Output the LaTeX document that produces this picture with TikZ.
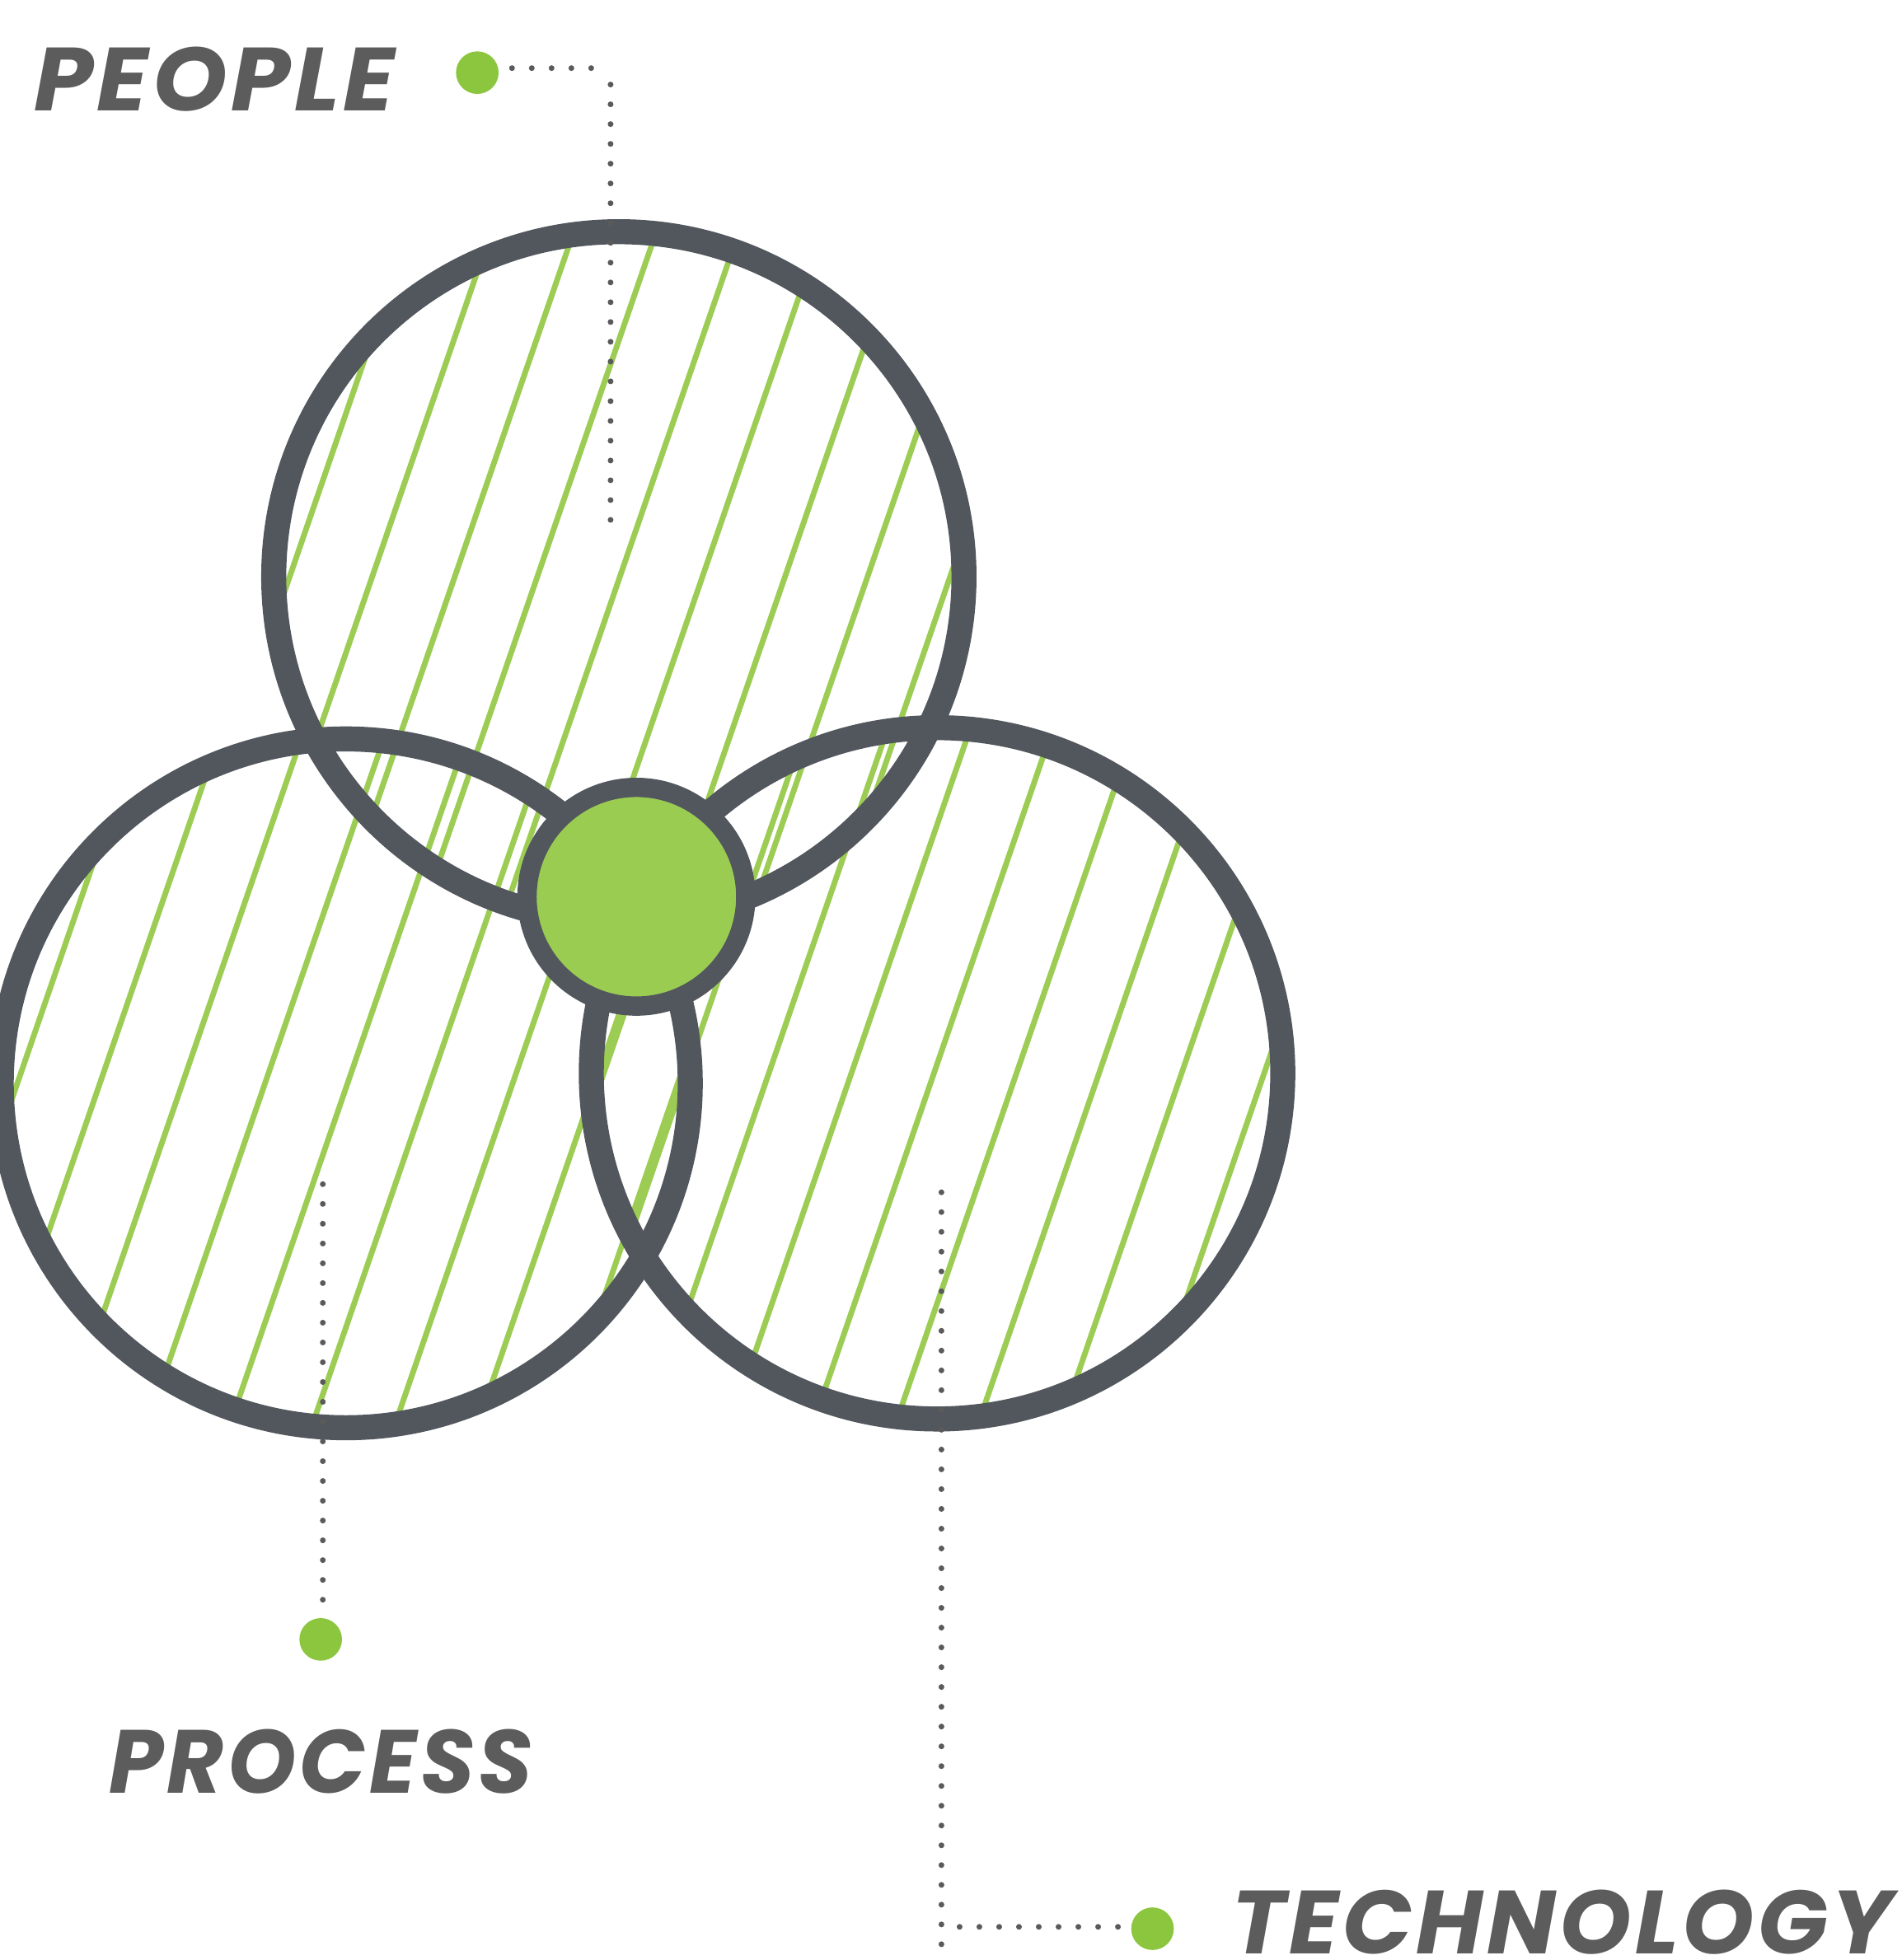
\documentclass[tikz,border=0pt]{standalone}
\usepackage{fontspec}
\usepackage{graphicx}
\newfontfamily\lblfont{Poppins}[LetterSpace=4]
\definecolor{ringgray}{HTML}{52575E}
\definecolor{hatchgreen}{HTML}{9CCC53}
\definecolor{coregreen}{HTML}{9BCC52}
\definecolor{markgreen}{HTML}{8CC63F}
\definecolor{textgray}{HTML}{5C5C5C}
\definecolor{dotgray}{HTML}{5A5A5A}
\newcommand{\lbltext}[2]{\resizebox{#1}{51pt}{\lblfont\fontsize{72}{72}\selectfont\bfseries\itshape #2}}
\tikzset{
  hatchline/.style={draw=hatchgreen, line width=4.5pt},
  ringline/.style={draw=ringgray, line width=20pt},
  dotconn/.style={draw=dotgray, line width=4.6pt, line cap=round, dash pattern=on 0pt off 15.8pt},
  marker/.style={circle, fill=markgreen, minimum size=34pt, inner sep=0pt},
  label/.style={text=textgray, inner sep=0pt, anchor=base west},
}
\begin{document}
\begin{tikzpicture}[x=1pt,y=-1pt]
\useasboundingbox (0,0) rectangle (1518,1565);
% circle centres
\coordinate (ctop) at (494,460.5);
\coordinate (cleft) at (276,865);
\coordinate (cright) at (748,857);
% hatching
\begin{scope}
  \clip (ctop) circle[radius=276];
  \foreach \k in {-3,...,17} { \draw[hatchline] ({390+65.9*\k},0) -- ++(-551.7,1600); }
\end{scope}
\begin{scope}
  \clip (cleft) circle[radius=276];
  \foreach \k in {-3,...,17} { \draw[hatchline] ({378+65.9*\k},0) -- ++(-551.7,1600); }
\end{scope}
\begin{scope}
  \clip (cright) circle[radius=276];
  \foreach \k in {-3,...,17} { \draw[hatchline] ({382+65.9*\k},0) -- ++(-551.7,1600); }
\end{scope}
% rings
\draw[ringline] (ctop) circle[radius=275.5];
\draw[ringline] (cleft) circle[radius=275];
\draw[ringline] (cright) circle[radius=276];
% core
\node[circle, fill=coregreen, draw=ringgray, line width=15.4pt, minimum size=174.6pt, inner sep=0pt] (core) at (508,716) {};
% markers
\node[marker] (mpeople) at (381,58) {};
\node[marker] (mprocess) at (256,1309) {};
\node[marker] (mtech) at (920,1540) {};
% dotted connectors
\coordinate (pa) at (408.7,54.4);
\coordinate (pb) at (473,54.4);
\coordinate (pc) at (487.4,67.5);
\coordinate (pd) at (487.4,416);
\draw[dotconn] (pa) -- (pb);
\draw[dotconn] (pc) -- (pd);
\coordinate (ra) at (257.7,945.5);
\coordinate (rb) at (257.7,1279);
\draw[dotconn] (ra) -- (rb);
\coordinate (ta) at (751.5,952);
\coordinate (tb) at (751.5,1556);
\coordinate (tc) at (766,1538.5);
\coordinate (td) at (893,1538.5);
\draw[dotconn] (ta) -- (tb);
\draw[dotconn] (tc) -- (td);
% labels
\node[label] (lpeople) at (27,88.4) {\lbltext{288pt}{PEOPLE}};
\node[label] (lprocess) at (87,1431.5) {\lbltext{338pt}{PROCESS}};
\node[label] (ltech) at (983,1559.8) {\lbltext{528pt}{TECHNOLOGY}};
\end{tikzpicture}
\end{document}
